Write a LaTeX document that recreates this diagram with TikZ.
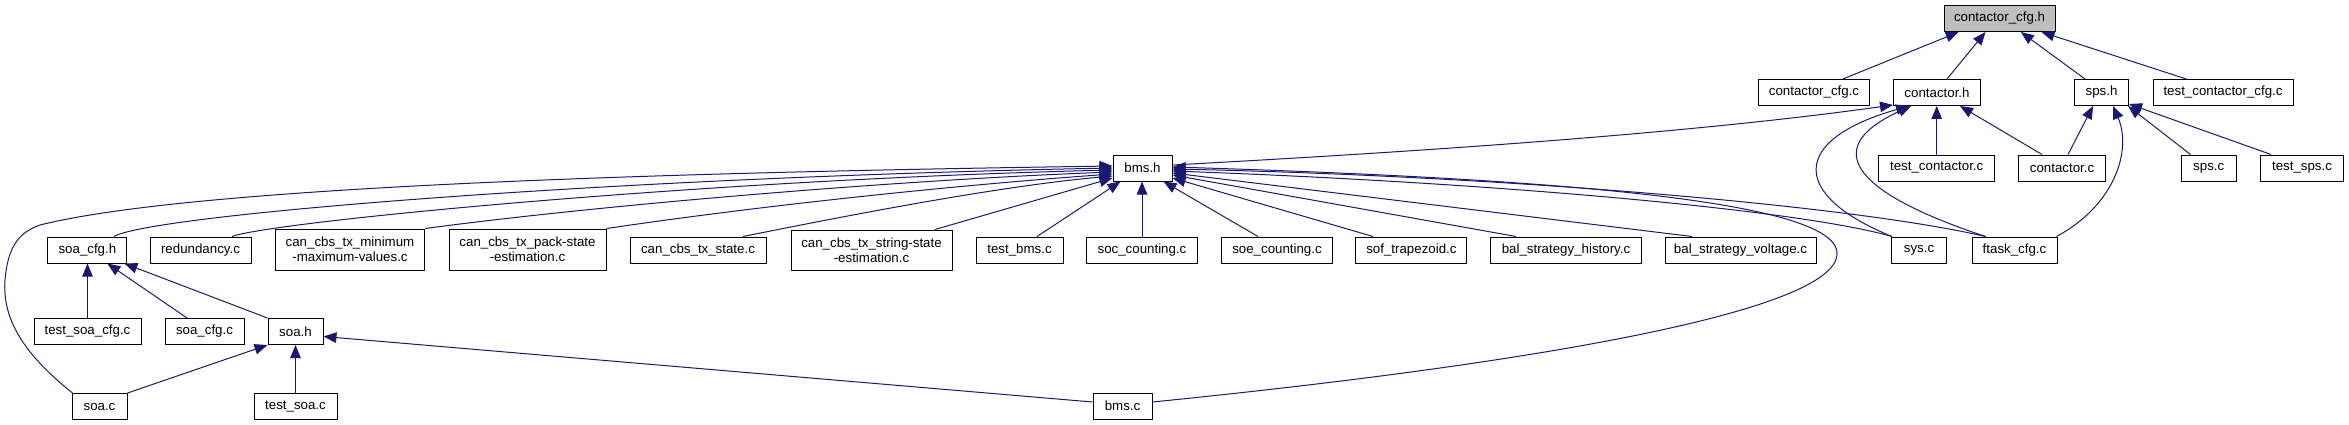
\documentclass[tikz,border=0pt]{standalone}
\usepackage{fontspec}
\setmainfont{Liberation Sans}
\usetikzlibrary{arrows.meta}
\definecolor{edgeblue}{HTML}{191970}
\definecolor{rootgray}{HTML}{BFBFBF}
\tikzset{
 fbox/.style={draw=black, line width=1pt, fill=white, inner sep=0pt, minimum height=26pt, font=\fontsize{13.3}{15}\selectfont, align=center},
 edge/.style={draw=edgeblue, line width=1pt, -{Triangle[length=13pt,width=10.5pt,fill=edgeblue]}},
}
\begin{document}
\begin{tikzpicture}[x=1pt,y=-1pt]
\useasboundingbox (0,0) rectangle (2349,425);
% row 0-1
\node[fbox, fill=rootgray, minimum width=111pt] (ccfgh) at (1999.5,18.5) {contactor\_cfg.h};
\node[fbox, minimum width=111pt] (ccfgc) at (1814,92.5) {contactor\_cfg.c};
\node[fbox, minimum width=87pt] (conth) at (1937,92.5) {contactor.h};
\node[fbox, minimum width=54pt] (spsh) at (2101.5,92.5) {sps.h};
\node[fbox, minimum width=140pt] (tccfg) at (2223,92.5) {test\_contactor\_cfg.c};
% row 2
\node[fbox, minimum width=59pt] (bmsh) at (1142.5,168) {bms.h};
\node[fbox, minimum width=116pt] (tcont) at (1936.7,168) {test\_contactor.c};
\node[fbox, minimum width=87pt] (contc) at (2062,168) {contactor.c};
\node[fbox, minimum width=55pt] (spsc) at (2208.7,168) {sps.c};
\node[fbox, minimum width=83pt] (tsps) at (2302,168) {test\_sps.c};
% row 3
\node[fbox, minimum width=79pt] (soacfgh) at (87.4,250) {soa\_cfg.h};
\node[fbox, minimum width=101pt] (redun) at (200.5,250) {redundancy.c};
\node[fbox, minimum width=149.5pt, minimum height=41pt] (cmin) at (350,249.5) {can\_cbs\_tx\_minimum\\-maximum-values.c};
\node[fbox, minimum width=157pt, minimum height=41pt] (cpack) at (527.5,249.5) {can\_cbs\_tx\_pack-state\\-estimation.c};
\node[fbox, minimum width=136pt] (cstate) at (698,250) {can\_cbs\_tx\_state.c};
\node[fbox, minimum width=161pt, minimum height=40pt] (cstring) at (871.5,250) {can\_cbs\_tx\_string-state\\-estimation.c};
\node[fbox, minimum width=87pt] (tbms) at (1019.5,250) {test\_bms.c};
\node[fbox, minimum width=111pt] (soc) at (1142,250) {soc\_counting.c};
\node[fbox, minimum width=111pt] (soe) at (1277,250) {soe\_counting.c};
\node[fbox, minimum width=111pt] (sof) at (1411.4,250) {sof\_trapezoid.c};
\node[fbox, minimum width=151pt] (balh) at (1566,250) {bal\_strategy\_history.c};
\node[fbox, minimum width=151pt] (balv) at (1740.5,250) {bal\_strategy\_voltage.c};
\node[fbox, minimum width=55pt] (sysc) at (1919,250) {sys.c};
\node[fbox, minimum width=85pt] (ftask) at (2014.5,250) {ftask\_cfg.c};
% row 4
\node[fbox, minimum width=107pt] (tsoacfg) at (87.5,331.5) {test\_soa\_cfg.c};
\node[fbox, minimum width=79pt] (soacfgc) at (204.5,331.5) {soa\_cfg.c};
\node[fbox, minimum width=55pt] (soah) at (295.5,331.5) {soa.h};
% row 5
\node[fbox, minimum width=55pt] (soac) at (99.5,406.5) {soa.c};
\node[fbox, minimum width=83pt] (tsoa) at (295.5,406.5) {test\_soa.c};
\node[fbox, minimum width=59pt] (bmsc) at (1122.5,406) {bms.c};

% edges into contactor_cfg.h
\draw[edge] ([xshift=28.8]ccfgc.north) -- ([xshift=-40.8]ccfgh.south);
\draw[edge] ([xshift=10]conth.north) -- ([xshift=-14]ccfgh.south);
\draw[edge] ([xshift=-16.5]spsh.north) -- ([xshift=21.3]ccfgh.south);
\draw[edge] ([xshift=-36.7]tccfg.north) -- ([xshift=42]ccfgh.south);

% edges into contactor.h
\draw[edge] (tcont.north) -- (tcont.north |- conth.south);
\draw[edge] ([xshift=-20]contc.north) -- ([xshift=23]conth.south);
\draw[edge] ([xshift=1]sysc.north west) .. controls (1790,195) and (1790,140) .. ([xshift=-28]conth.south);
\draw[edge] ([xshift=14]ftask.north west) .. controls (1860,195) and (1815,150) .. ([xshift=-26]conth.south);
\draw[edge] ([yshift=3]bmsh.east) .. controls (1450,150) and (1700,132) .. ([yshift=1]conth.south west);

% edges into sps.h
\draw[edge] ([xshift=6]contc.north) -- ([xshift=-8.5]spsh.south);
\draw[edge] ([xshift=-18.2]spsc.north) -- ([xshift=-1]spsh.south east);
\draw[edge] ([xshift=-31]tsps.north) -- ([yshift=2]spsh.south east);
\draw[edge] ([xshift=-1]ftask.north east) .. controls (2115,205) and (2132,150) .. ([xshift=11.5]spsh.south);

% edges into bms.h (left side)
\draw[edge] ([xshift=1]soac.north west) .. controls (25,355) and (2,320) .. (5,280)
  .. controls (8,245) and (20,232) .. (40,225)
  .. controls (200,185) and (700,172) .. ([yshift=2]bmsh.west);
\draw[edge] ([xshift=26.6]soacfgh.north) .. controls (150,215) and (600,178) .. ([yshift=0]bmsh.west);
\draw[edge] ([xshift=31.5]redun.north) .. controls (270,222) and (700,180) .. ([yshift=-2]bmsh.west);
\draw[edge] (cmin.north east) .. controls (600,205) and (900,180) .. ([yshift=-4]bmsh.west);
\draw[edge] (cpack.north east) .. controls (800,200) and (1000,182) .. ([yshift=-6]bmsh.west);
\draw[edge] ([xshift=45]cstate.north) .. controls (850,215) and (1000,186) .. ([yshift=-8]bmsh.west);
\draw[edge] ([xshift=63.5]cstring.north) -- ([yshift=-10]bmsh.west);
\draw[edge] ([xshift=17.5]tbms.north) -- ([xshift=8]bmsh.south west);
\draw[edge] (soc.north) -- (soc.north |- bmsh.south);
% edges into bms.h (right side)
\draw[edge] ([xshift=-19]soe.north) -- ([xshift=-9]bmsh.south east);
\draw[edge] ([xshift=-38.4]sof.north) -- ([yshift=-10]bmsh.east);
\draw[edge] ([xshift=-50]balh.north) -- ([yshift=-7]bmsh.east);
\draw[edge] ([xshift=-48.5]balv.north) -- ([yshift=-5]bmsh.east);
\draw[edge] ([xshift=1]sysc.north west) .. controls (1800,210) and (1500,183) .. ([yshift=-3]bmsh.east);
\draw[edge] ([xshift=14]ftask.north west) .. controls (1850,205) and (1500,176) .. ([yshift=-1]bmsh.east);
\draw[edge] ([yshift=4]bmsc.east) .. controls (1550,362) and (1832,310) .. (1837,255)
  .. controls (1842,205) and (1600,180) .. ([yshift=1]bmsh.east);

% edges into soa_cfg.h
\draw[edge] (tsoacfg.north) -- (tsoacfg.north |- soacfgh.south);
\draw[edge] ([xshift=-17.5]soacfgc.north) -- ([xshift=20]soacfgh.south);
\draw[edge] (soah.north west) -- ([xshift=-3]soacfgh.south east);

% edges into soa.h
\draw[edge] (soac.north east) -- (soah.south west);
\draw[edge] (tsoa.north) -- (soah.south);
\draw[edge] ([yshift=4]bmsc.west) -- ([yshift=-5]soah.east);
\end{tikzpicture}
\end{document}
